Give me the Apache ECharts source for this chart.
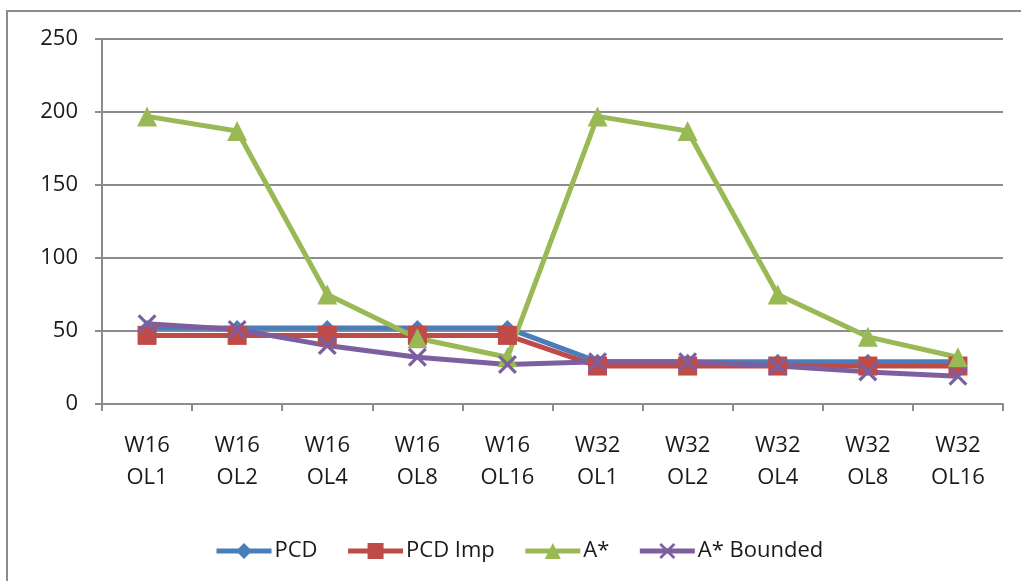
<!DOCTYPE html>
<html>
<head>
<meta charset="utf-8">
<script src="https://cdn.jsdelivr.net/npm/echarts@6/dist/echarts.min.js"></script>
<style>
html,body{margin:0;padding:0;background:#fff;}
#chart{width:1021px;height:581px;}
</style>
</head>
<body>
<div id="chart"></div>
<script>
const categories = ['W16\nOL1','W16\nOL2','W16\nOL4','W16\nOL8','W16\nOL16','W32\nOL1','W32\nOL2','W32\nOL4','W32\nOL8','W32\nOL16'];
const pcd = [52, 52, 52, 52, 52, 29, 29, 29, 29, 29];
const pcdImp = [47, 47, 47, 47, 47, 26, 26, 26, 26, 26];
const aStar = [197, 187, 75, 45, 32, 197, 187, 75, 46, 32];
const aStarBounded = [55, 51, 40, 32, 27, 29, 29, 26, 22, 19];
const yTicks = { min: 0, max: 250, interval: 50 };

const FONT = '"Open Sans", "Noto Sans", sans-serif';
const xPath = 'path://M0,1.2 L1.2,0 L5,3.8 L8.8,0 L10,1.2 L6.2,5 L10,8.8 L8.8,10 L5,6.2 L1.2,10 L0,8.8 L3.8,5 Z';

const chart = echarts.init(document.getElementById('chart'), null, {renderer:'canvas'});
function mk(name, data, color, symbol, size) {
  return {
    name, type:'line', data, symbol, symbolSize: size,
    lineStyle:{color, width:5}, itemStyle:{color},
    emphasis:{disabled:true}, animation:false
  };
}
chart.setOption({
  animation:false,
  textStyle:{fontFamily:FONT},
  graphic:[{type:'rect', shape:{x:7, y:11, width:1100, height:700}, style:{fill:'none', stroke:'#8c8c8c', lineWidth:2}, silent:true}],
  grid:{left:102, right:18, top:39, bottom:177, containLabel:false},
  legend:{
    top:535, left:209, itemWidth:55, itemHeight:20, itemGap:28,
    lineStyle:{width:5},
    textStyle:{fontFamily:FONT, fontSize:22, color:'#1a1a1a', padding:[0,0,0,-2]},
    data:['PCD','PCD Imp','A*','A* Bounded']
  },
  xAxis:{
    type:'category', data:categories, boundaryGap:true,
    axisLine:{lineStyle:{color:'#8c8c8c', width:2}},
    axisTick:{show:true, alignWithLabel:false, length:7, lineStyle:{color:'#8c8c8c', width:2}},
    axisLabel:{fontFamily:FONT, fontSize:22, color:'#1a1a1a', margin:26, lineHeight:32, interval:0}
  },
  yAxis:{
    type:'value', min:yTicks.min, max:yTicks.max, interval:yTicks.interval,
    axisLine:{show:true, lineStyle:{color:'#8c8c8c', width:2}},
    axisTick:{show:true, length:7, lineStyle:{color:'#8c8c8c', width:2}},
    splitLine:{lineStyle:{color:'#8c8c8c', width:2}},
    axisLabel:{fontFamily:FONT, fontSize:22, color:'#1a1a1a', margin:24}
  },
  series:[
    mk('PCD', pcd, '#4A7EBB', 'diamond', 16),
    mk('PCD Imp', pcdImp, '#BE4B48', 'rect', 19),
    mk('A*', aStar, '#98B954', 'triangle', 20),
    mk('A* Bounded', aStarBounded, '#7D5FA0', xPath, 19)
  ]
});
</script>
</body>
</html>
